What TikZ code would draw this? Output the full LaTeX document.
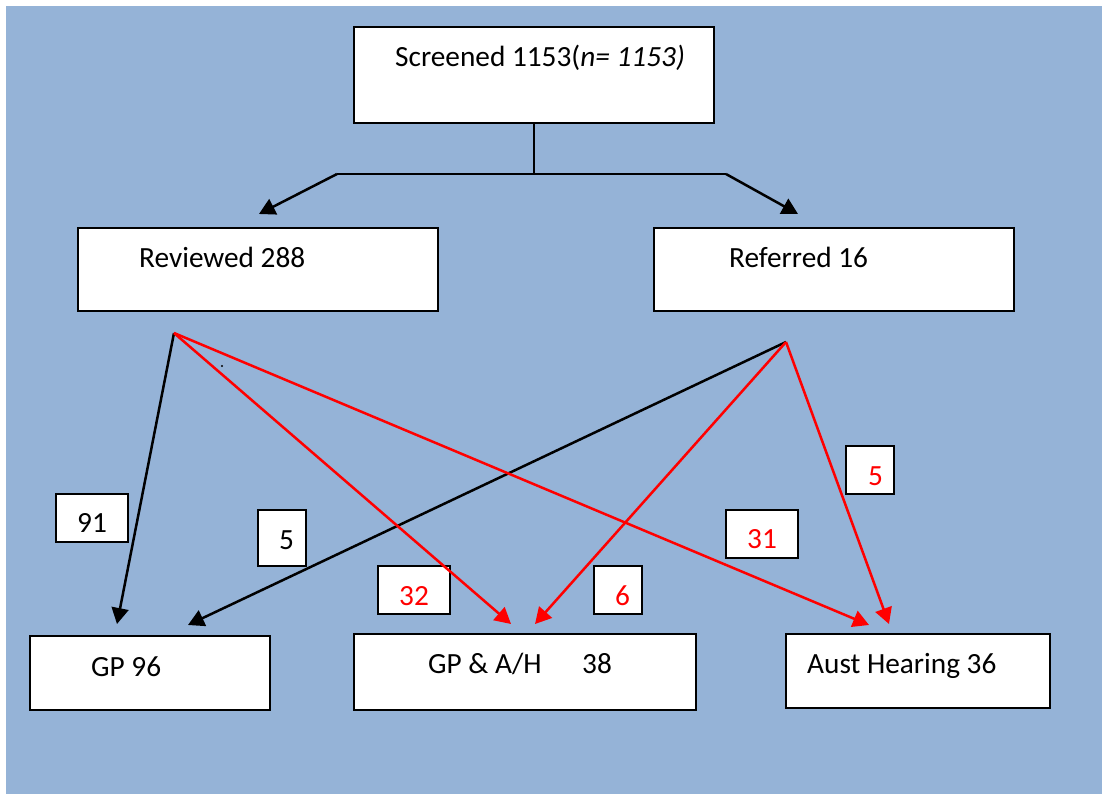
\documentclass[tikz,border=0pt]{standalone}
\usepackage{fontspec}
\setmainfont{Carlito}
\usetikzlibrary{arrows.meta}
\definecolor{bgblue}{RGB}{149,179,215}
\definecolor{flowred}{RGB}{255,0,0}
\begin{document}
\begin{tikzpicture}[x=1pt,y=-1pt,
  box/.style={draw=black, line width=2pt, fill=white, rectangle, inner sep=0pt},
  numbox/.style={box, line width=1.8pt},
  txt/.style={inner sep=0pt, anchor=base west, font=\fontsize{29.3}{34}\selectfont},
  flow/.style={line width=2.5pt, -{Triangle[length=16pt,width=17pt]}},
  plain/.style={line width=2pt},
  redflow/.style={flow, draw=flowred, color=flowred}
]
% page and background panel
\useasboundingbox (0,0) rectangle (1102,794);
\fill[white] (-10,-10) rectangle (1112,804);
\fill[bgblue] (6,6) rectangle (1112,804);

% main boxes
\node[box, minimum width=360pt, minimum height=96pt] (scr) at (534,75) {};
\node[box, minimum width=360pt, minimum height=83pt] (rev) at (258,269.5) {};
\node[box, minimum width=360pt, minimum height=83pt] (ref) at (834,269.5) {};
\node[box, minimum width=240pt, minimum height=74pt] (gp) at (150,673) {};
\node[box, minimum width=342pt, minimum height=76pt] (gpah) at (525,672) {};
\node[box, minimum width=264pt, minimum height=74pt] (aust) at (918,671) {};

\node[txt] (scrT) at (395,67) {Screened 1153(\textit{n= 1153)}};
\node[txt] (revT) at (139,267) {Reviewed 288};
\node[txt] (refT) at (729,267) {Referred 16};
\node[txt] (gpT) at (91,676) {GP 96};
\node[txt] (gpahT) at (428,673) {GP \& A/H};
\node[txt] (gpahN) at (582,673) {38};
\node[txt] (austT) at (807,673) {Aust Hearing 36};

% count labels
\node[numbox, minimum width=72pt, minimum height=48pt] (l91) at (92,518) {};
\node[numbox, minimum width=48pt, minimum height=56pt] (l5k) at (282,538) {};
\node[numbox, minimum width=72pt, minimum height=48pt] (l32) at (414,590) {};
\node[numbox, minimum width=48pt, minimum height=48pt] (l6) at (618,590) {};
\node[numbox, minimum width=72pt, minimum height=48pt] (l31) at (762,534) {};
\node[numbox, minimum width=48pt, minimum height=48pt] (l5r) at (870,470) {};

\node[txt] (t91) at (77,532) {91};
\node[txt] (t5k) at (279,549) {5};
\node[txt, text=flowred] (t32) at (399,605) {32};
\node[txt, text=flowred] (t6) at (615,605) {6};
\node[txt, text=flowred] (t31) at (747,548) {31};
\node[txt, text=flowred] (t5r) at (868,485) {5};

% split from the screened box
\coordinate (split) at (534,174);
\coordinate (splitL) at (337,174);
\coordinate (splitR) at (726,174);
\coordinate (revIn) at (259,214);
\coordinate (refIn) at (798,214);
\draw[plain] (scr.south) -- (split);
\draw[plain] (splitL) -- (splitR);
\draw[flow] (splitL) -- (revIn);
\draw[flow] (splitR) -- (refIn);

% outcome arrows
\coordinate (revOut) at (174,333);
\coordinate (refOut) at (786,342);
\coordinate (gpInA) at (117,624);
\coordinate (gpInB) at (188,625);
\coordinate (gpahInA) at (511,624);
\coordinate (gpahInB) at (535,624);
\coordinate (austInA) at (869,625);
\coordinate (austInB) at (889,624);

\draw[flow] (revOut) -- (gpInA);
\draw[flow] (refOut) -- (gpInB);
\draw[redflow] (revOut) -- (gpahInA);
\draw[redflow] (revOut) -- (austInA);
\draw[redflow] (refOut) -- (gpahInB);
\draw[redflow] (refOut) -- (austInB);

\fill (222,366) circle (1.2pt);
\end{tikzpicture}
\end{document}
